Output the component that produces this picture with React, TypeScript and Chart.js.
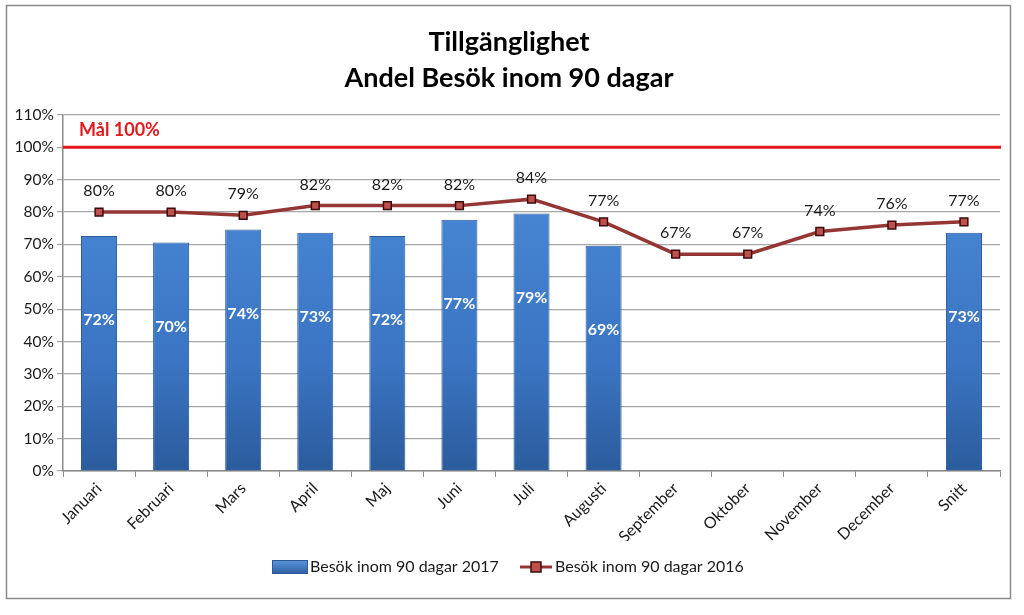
import React, { useEffect, useRef } from "react";
import { Chart, registerables } from "chart.js";

Chart.register(...registerables);

const categories = ["Januari", "Februari", "Mars", "April", "Maj", "Juni", "Juli", "Augusti", "September", "Oktober", "November", "December", "Snitt"];
const values2017: (number | null)[] = [72.6, 70.6, 74.6, 73.6, 72.6, 77.6, 79.6, 69.6, null, null, null, null, 73.6];
const values2016 = [80, 80, 79, 82, 82, 82, 84, 77, 67, 67, 74, 76, 77];
const labels2017 = ["72%", "70%", "74%", "73%", "72%", "77%", "79%", "69%", "", "", "", "", "73%"];
const goalValue = 100;
const goalLabel = "Mål 100%";
const titleLines = ["Tillgänglighet", "Andel Besök inom 90 dagar"];
const seriesNames = ["Besök inom 90 dagar 2017", "Besök inom 90 dagar 2016"];
const yMin = 0;
const yMax = 110;
const yStep = 10;

const FONT = "Lato, 'Open Sans', sans-serif";
const LINE_COLOR = "#943634";
const MARKER_FILL = "#c0504d";
const MARKER_BORDER = "#3a0d0c";

const decorPlugin = {
  id: "decor",
  beforeDraw(chart: any) {
    const { ctx, width, height } = chart;
    ctx.save();
    ctx.fillStyle = "#ffffff";
    ctx.fillRect(0, 0, width, height);
    ctx.strokeStyle = "#8a8a8a";
    ctx.lineWidth = 1.5;
    ctx.strokeRect(6.5, 5.5, 1004, 593);
    ctx.restore();
  },
  beforeDatasetsDraw(chart: any) {
    const { ctx, chartArea, scales } = chart;
    const y = scales.y.getPixelForValue(goalValue);
    ctx.save();
    ctx.strokeStyle = "#e3191c";
    ctx.lineWidth = 3;
    ctx.beginPath();
    ctx.moveTo(chartArea.left, y);
    ctx.lineTo(chartArea.right + 1, y);
    ctx.stroke();
    ctx.fillStyle = "#e3191c";
    ctx.font = `bold 18px ${FONT}`;
    ctx.textAlign = "left";
    ctx.textBaseline = "middle";
    ctx.fillText(goalLabel, chartArea.left + 16, 130);
    ctx.restore();
  },
  afterDatasetsDraw(chart: any) {
    const { ctx } = chart;
    ctx.save();
    const barMeta = chart.getDatasetMeta(0);
    ctx.font = `bold 16px ${FONT}`;
    ctx.fillStyle = "#ffffff";
    ctx.textAlign = "center";
    ctx.textBaseline = "middle";
    barMeta.data.forEach((el: any, i: number) => {
      if (values2017[i] == null) return;
      ctx.fillText(labels2017[i], el.x, el.y + 84);
    });
    const lineMeta = chart.getDatasetMeta(1);
    ctx.font = `16px ${FONT}`;
    ctx.fillStyle = "#1a1a1a";
    lineMeta.data.forEach((el: any, i: number) => {
      ctx.fillText(`${values2016[i]}%`, el.x, el.y - 21);
    });
    ctx.restore();

    ctx.save();
    ctx.fillStyle = "#000000";
    ctx.font = `bold 27px ${FONT}`;
    ctx.textAlign = "center";
    ctx.textBaseline = "middle";
    ctx.fillText(titleLines[0], 509, 42);
    ctx.fillText(titleLines[1], 509, 78);
    ctx.restore();

    ctx.save();
    const ly = 567;
    const g = ctx.createLinearGradient(0, ly - 7, 0, ly + 7);
    g.addColorStop(0, "#5d95dc");
    g.addColorStop(1, "#2c5fa0");
    ctx.fillStyle = g;
    ctx.fillRect(272, ly - 7, 36, 14);
    ctx.strokeStyle = "#2a5a96";
    ctx.lineWidth = 1;
    ctx.strokeRect(272.5, ly - 6.5, 35, 13);
    ctx.font = `16px ${FONT}`;
    ctx.fillStyle = "#1a1a1a";
    ctx.textAlign = "left";
    ctx.textBaseline = "middle";
    ctx.fillText(seriesNames[0], 310, ly);
    ctx.strokeStyle = LINE_COLOR;
    ctx.lineWidth = 3;
    ctx.beginPath();
    ctx.moveTo(520, ly);
    ctx.lineTo(552, ly);
    ctx.stroke();
    ctx.fillStyle = MARKER_FILL;
    ctx.fillRect(531, ly - 5, 10, 10);
    ctx.strokeStyle = MARKER_BORDER;
    ctx.lineWidth = 1.5;
    ctx.strokeRect(531, ly - 5, 10, 10);
    ctx.fillStyle = "#1a1a1a";
    ctx.fillText(seriesNames[1], 555, ly);
    ctx.restore();
  },
};

export default function App() {
  const ref = useRef<HTMLCanvasElement | null>(null);
  useEffect(() => {
    if (!ref.current) return;
    const chart = new Chart(ref.current, {
      data: {
        labels: categories,
        datasets: [
          {
            type: "bar",
            label: seriesNames[0],
            data: values2017,
            backgroundColor: (c: any) => {
              const area = c.chart.chartArea;
              if (!area) return "#3a74c4";
              const g = c.chart.ctx.createLinearGradient(0, area.top + 90, 0, area.bottom);
              g.addColorStop(0, "#4785d3");
              g.addColorStop(0.6, "#3a74c2");
              g.addColorStop(1, "#2b5c9c");
              return g;
            },
            borderColor: "#2a5a96",
            borderWidth: 1,
            barPercentage: 0.5,
            categoryPercentage: 1,
            order: 2,
          },
          {
            type: "line",
            label: seriesNames[1],
            data: values2016,
            borderColor: LINE_COLOR,
            borderWidth: 3.5,
            pointStyle: "rect",
            pointRadius: 5.5,
            pointBackgroundColor: MARKER_FILL,
            pointBorderColor: MARKER_BORDER,
            pointBorderWidth: 1.5,
            tension: 0,
            order: 1,
          },
        ],
      } as any,
      options: {
        responsive: false,
        animation: false,
        layout: { padding: { top: 115, right: 24, bottom: 74, left: 0 } },
        plugins: {
          legend: { display: false },
          title: { display: false },
          tooltip: { enabled: false },
        },
        scales: {
          x: {
            offset: true,
            grid: {
              display: true,
              drawOnChartArea: false,
              offset: true,
              tickLength: 6,
              color: "#8a8a8a",
            },
            border: { color: "#8a8a8a", width: 1.5 },
            ticks: {
              minRotation: 45,
              maxRotation: 45,
              autoSkip: false,
              padding: 2,
              color: "#1a1a1a",
              font: { family: FONT, size: 16 },
            },
            afterFit: (s: any) => {
              s.height = 70;
            },
          },
          y: {
            min: yMin,
            max: yMax,
            ticks: {
              stepSize: yStep,
              callback: (v: any) => `${v}%`,
              color: "#1a1a1a",
              font: { family: FONT, size: 15.5 },
              padding: 3,
            },
            grid: { color: "#a6a6a6", tickLength: 6, lineWidth: 1.2 },
            border: { color: "#8a8a8a", width: 1.5 },
            afterFit: (s: any) => {
              s.width = 63;
            },
          },
        },
      } as any,
      plugins: [decorPlugin],
    });
    return () => chart.destroy();
  }, []);
  return (
    <div style={{ position: "fixed", left: 0, top: 0, width: 1024, height: 615, background: "#fff" }}>
      <canvas ref={ref} width={1024} height={615} style={{ display: "block" }} />
    </div>
  );
}
